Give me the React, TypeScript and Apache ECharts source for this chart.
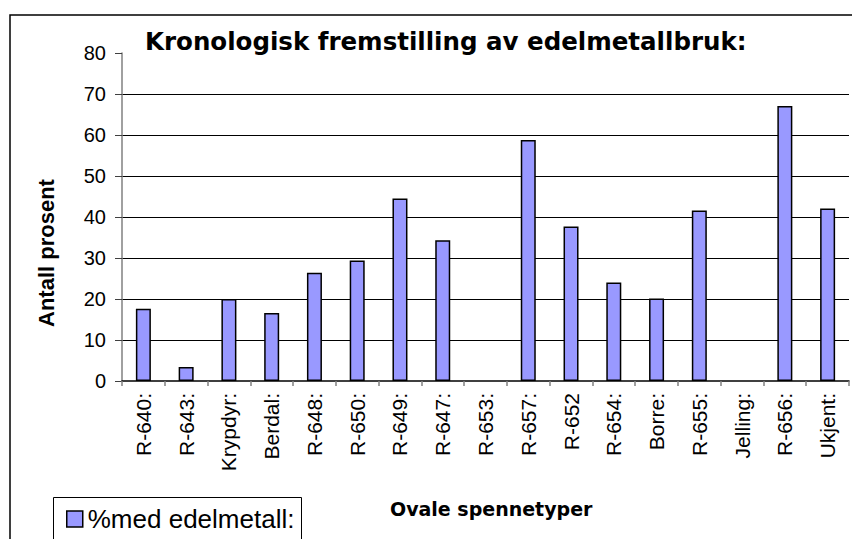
import React, { useEffect, useRef } from "react";
import * as echarts from "echarts";

const categories = [
  "R-640:", "R-643:", "Krypdyr:", "Berdal:", "R-648:", "R-650:", "R-649:", "R-647:",
  "R-653:", "R-657:", "R-652", "R-654:", "Borre:", "R-655:", "Jelling:", "R-656:", "Ukjent:",
];
const values = [17.6, 3.4, 20.0, 16.6, 26.4, 29.4, 44.5, 34.3, null, 58.8, 37.7, 24.0, 20.1, 41.6, null, 67.1, 42.1];
const seriesName = "%med edelmetall:";
const titleText = "Kronologisk fremstilling av edelmetallbruk:";
const yName = "Antall prosent";
const xName = "Ovale spennetyper";

export default function App() {
  const ref = useRef<HTMLDivElement>(null);
  useEffect(() => {
    if (!ref.current) return;
    const chart = echarts.init(ref.current, null, { renderer: "svg" });
    chart.setOption({
      animation: false,
      backgroundColor: "#fff",
      textStyle: { fontFamily: "Liberation Sans" },
      title: {
        text: titleText,
        left: 145,
        top: 29,
        padding: 0,
        textStyle: { fontFamily: "DejaVu Sans", fontWeight: "bold", fontSize: 24.5, color: "#000" },
      },
      grid: { left: 122, right: 3, top: 53, bottom: 158, containLabel: false },
      legend: {
        data: [seriesName],
        left: 66,
        top: 506,
        padding: 0,
        itemWidth: 16,
        itemHeight: 16,
        itemGap: 6,
        icon: "rect",
        itemStyle: { color: "#9999FF", borderColor: "#000", borderWidth: 1.5 },
        textStyle: { fontFamily: "Liberation Sans", fontSize: 26, color: "#000", padding: [0, 0, 0, 0] },
      },
      xAxis: {
        type: "category",
        data: categories,
        boundaryGap: true,
        axisLine: { lineStyle: { color: "#000", width: 1.5 } },
        axisTick: { show: true, alignWithLabel: false, length: 5, lineStyle: { color: "#808080", width: 1.5 } },
        axisLabel: { rotate: 90, interval: 0, margin: 12, fontSize: 21, color: "#000", fontFamily: "Liberation Sans" },
        splitLine: { show: false },
      },
      yAxis: {
        type: "value",
        min: 0,
        max: 80,
        interval: 10,
        axisLine: { show: true, lineStyle: { color: "#808080", width: 1.5 } },
        axisTick: { show: true, length: 7, lineStyle: { color: "#404040", width: 1 } },
        axisLabel: { margin: 16, fontSize: 20, color: "#000", fontFamily: "Liberation Sans" },
        splitLine: { show: true, showMinLine: false, showMaxLine: false, lineStyle: { color: "#000", width: 1.2 } },
      },
      series: [
        {
          name: seriesName,
          type: "bar",
          data: values,
          barWidth: 15,
          itemStyle: { color: "#9999FF", borderColor: "#000", borderWidth: 1.5 },
        },
      ],
      graphic: [
        {
          type: "rect",
          z: -10,
          silent: true,
          shape: { x: 10, y: 15, width: 900, height: 600 },
          style: { fill: "none", stroke: "#000", lineWidth: 1.5 },
        },
        {
          type: "rect",
          z: -5,
          silent: true,
          shape: { x: 53.5, y: 497.5, width: 248, height: 80 },
          style: { fill: "none", stroke: "#000", lineWidth: 1 },
        },
        {
          type: "text",
          x: 46,
          y: 253,
          rotation: Math.PI / 2,
          silent: true,
          style: {
            text: yName,
            font: "bold 22px 'Liberation Sans'",
            fill: "#000",
            align: "center",
            verticalAlign: "middle",
          },
        },
        {
          type: "text",
          left: 390,
          top: 499,
          silent: true,
          style: {
            text: xName,
            font: "bold 19px 'DejaVu Sans'",
            fill: "#000",
          },
        },
      ],
    });
    return () => chart.dispose();
  }, []);
  return (
    <div
      ref={ref}
      style={{ position: "absolute", left: 0, top: 0, width: 852, height: 539 }}
    />
  );
}
